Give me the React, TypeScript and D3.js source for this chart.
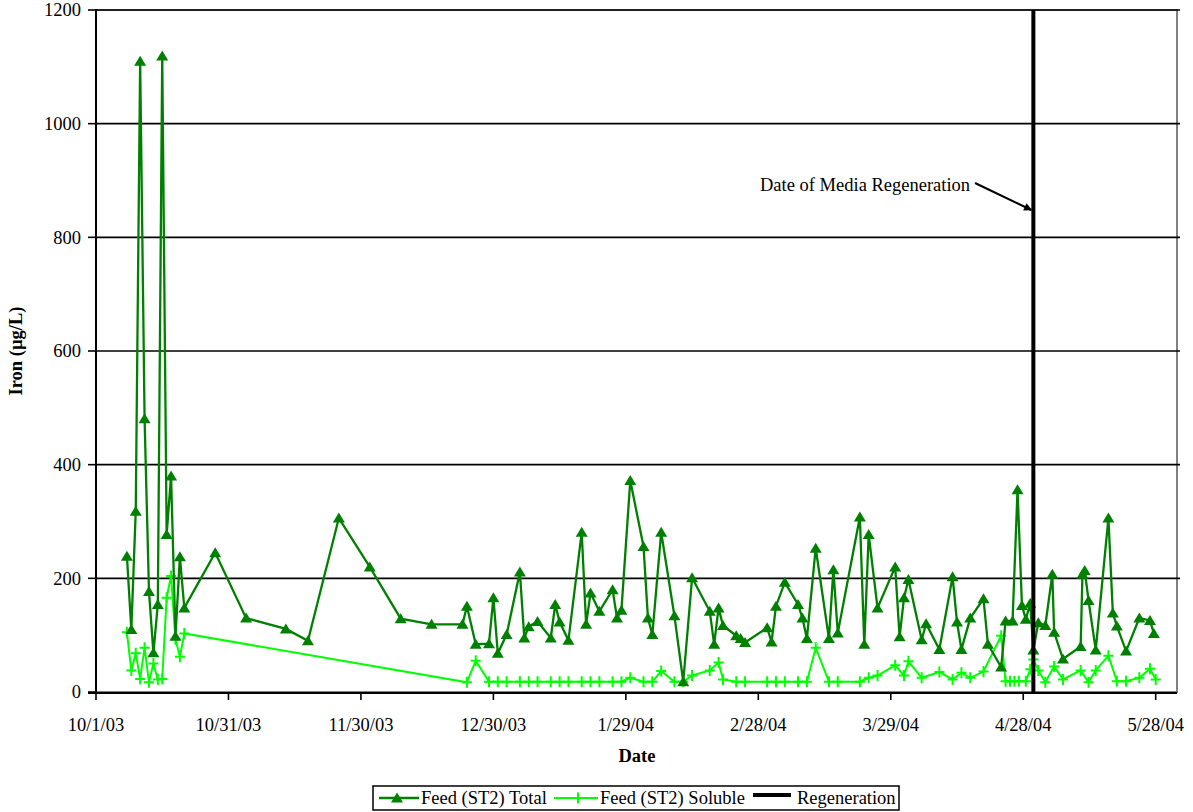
import React from "react";
import * as d3 from "d3";

// ---------- data ----------
const totalDates = [
  "2003-10-08", "2003-10-09", "2003-10-10", "2003-10-11", "2003-10-12", "2003-10-13", "2003-10-14",
  "2003-10-15", "2003-10-16", "2003-10-17", "2003-10-18", "2003-10-19", "2003-10-20", "2003-10-21",
  "2003-10-28", "2003-11-04", "2003-11-13", "2003-11-18", "2003-11-25", "2003-12-02", "2003-12-09",
  "2003-12-16", "2003-12-23", "2003-12-24", "2003-12-26", "2003-12-29", "2003-12-30", "2003-12-31",
  "2004-01-02", "2004-01-05", "2004-01-06", "2004-01-07", "2004-01-09", "2004-01-12", "2004-01-13",
  "2004-01-14", "2004-01-16", "2004-01-19", "2004-01-20", "2004-01-21", "2004-01-23", "2004-01-26",
  "2004-01-27", "2004-01-28", "2004-01-30", "2004-02-02", "2004-02-03", "2004-02-04", "2004-02-06",
  "2004-02-09", "2004-02-11", "2004-02-13", "2004-02-17", "2004-02-18", "2004-02-19", "2004-02-20",
  "2004-02-23", "2004-02-24", "2004-02-25", "2004-03-01", "2004-03-02", "2004-03-03", "2004-03-05",
  "2004-03-08", "2004-03-09", "2004-03-10", "2004-03-12", "2004-03-15", "2004-03-16", "2004-03-17",
  "2004-03-22", "2004-03-23", "2004-03-24", "2004-03-26", "2004-03-30", "2004-03-31", "2004-04-01",
  "2004-04-02", "2004-04-05", "2004-04-06", "2004-04-09", "2004-04-12", "2004-04-13", "2004-04-14",
  "2004-04-16", "2004-04-19", "2004-04-20", "2004-04-23", "2004-04-24", "2004-04-25T14", "2004-04-26T17",
  "2004-04-27T17", "2004-04-28T14", "2004-04-29T14", "2004-04-30T07", "2004-05-01T10", "2004-05-03",
  "2004-05-04T14", "2004-05-05", "2004-05-07", "2004-05-11", "2004-05-11T10", "2004-05-11T22",
  "2004-05-12T19", "2004-05-14T10", "2004-05-17T07", "2004-05-18T07", "2004-05-19T05", "2004-05-21T07",
  "2004-05-24T07", "2004-05-26T17", "2004-05-27T14",
];
const totalValues = [
  239, 110, 318, 1110, 481, 177, 69,
  154, 1119, 277, 380, 98, 238, 148,
  245, 130, 111, 90, 306, 220, 129,
  119, 119, 151, 84, 85, 166, 68,
  101, 211, 95, 115, 124, 95, 154,
  123, 91, 281, 119, 174, 142, 180,
  130, 144, 372, 256, 130, 101, 281,
  134, 18, 201, 142, 84, 148, 117,
  99, 94, 87, 113, 88, 151, 193,
  154, 130, 94, 253, 94, 215, 104,
  308, 84, 277, 148, 220, 97, 166,
  198, 92, 120, 75, 203, 123, 75,
  130, 164, 84, 44, 125, 125, 356,
  152, 128, 156, 74, 122, 117,
  207, 105, 58, 80, 207, 214,
  161, 74, 306, 139, 116, 72,
  130, 126, 103,
];

const solubleDates = [
  "2003-10-08", "2003-10-09", "2003-10-10", "2003-10-11", "2003-10-12", "2003-10-13", "2003-10-14",
  "2003-10-15", "2003-10-16", "2003-10-17", "2003-10-18", "2003-10-19", "2003-10-20", "2003-10-21",
  "2003-12-24", "2003-12-26", "2003-12-29", "2003-12-31", "2004-01-02", "2004-01-05", "2004-01-07",
  "2004-01-09", "2004-01-12", "2004-01-14", "2004-01-16", "2004-01-19", "2004-01-21", "2004-01-23",
  "2004-01-26", "2004-01-28", "2004-01-30", "2004-02-02", "2004-02-04", "2004-02-06", "2004-02-09",
  "2004-02-11", "2004-02-13", "2004-02-17", "2004-02-19", "2004-02-20", "2004-02-23", "2004-02-25",
  "2004-03-01", "2004-03-03", "2004-03-05", "2004-03-08", "2004-03-10", "2004-03-12", "2004-03-15",
  "2004-03-17", "2004-03-22", "2004-03-24", "2004-03-26", "2004-03-30", "2004-04-01", "2004-04-02",
  "2004-04-05", "2004-04-09", "2004-04-12", "2004-04-14", "2004-04-16", "2004-04-19", "2004-04-23",
  "2004-04-24", "2004-04-25", "2004-04-26", "2004-04-27", "2004-04-28T14", "2004-04-29T14", "2004-04-30T07",
  "2004-05-01T10", "2004-05-03", "2004-05-05", "2004-05-07", "2004-05-11", "2004-05-12T19", "2004-05-14T10",
  "2004-05-17T07", "2004-05-19T05", "2004-05-21T07", "2004-05-24T07", "2004-05-26T17", "2004-05-28",
];
const solubleValues = [
  105, 38, 68, 23, 78, 17, 50,
  22, 23, 166, 204, 93, 62, 103,
  17, 55, 18, 18, 18, 18, 18,
  18, 18, 18, 18, 18, 18, 18,
  18, 18, 25, 18, 18, 37, 18,
  18, 29, 38, 52, 22, 18, 18,
  18, 18, 18, 18, 18, 78, 18,
  18, 18, 25, 29, 47, 29, 54,
  25, 35, 22, 34, 25, 36, 99,
  19, 19, 19, 19, 19, 40, 57,
  38, 17, 45, 22, 38, 17, 38,
  64, 19, 19, 25, 41, 22,
];

const regenerationDate = "2004-04-30T07";
const yTickValues = [0, 200, 400, 600, 800, 1000, 1200];
const xTickStart = "2003-10-01";
const xTickCount = 9;
const xTickStepDays = 30;

const seriesNames = ["Feed (ST2) Total", "Feed (ST2) Soluble", "Regeneration"];
const annotationText = "Date of Media Regeneration";

// ---------- helpers ----------
function parseDate(s: string): Date {
  const [d, h] = s.split("T");
  const [y, m, day] = d.split("-").map(Number);
  return new Date(Date.UTC(y, m - 1, day, h ? Number(h) : 0));
}

const FONT = "'Liberation Serif', 'Times New Roman', serif";
const FS = 18.5;

const left = 96;
const right = 1177;
const top = 10;
const bottom = 692;

const DARK = "#008000";
const LIME = "#00FF00";

const triPath = "M0,-5.5 L6,4.5 L-6,4.5 Z";
const plusPath = "M-5,0 H5 M0,-5.5 V5.5";

export default function App() {
  const t0 = parseDate(xTickStart);
  const tEnd = d3.utcDay.offset(t0, xTickStepDays * (xTickCount - 1));
  const x = d3.scaleUtc().domain([t0, tEnd]).range([left, 1155.7]);
  const y = d3.scaleLinear().domain([0, 1200]).range([bottom, top]);

  const xTicks = d3.range(xTickCount).map((i) => d3.utcDay.offset(t0, xTickStepDays * i));
  const fmt = d3.utcFormat("%-m/%-d/%y");

  const total = totalDates.map((d, i) => ({ d: parseDate(d), v: totalValues[i] }));
  const soluble = solubleDates.map((d, i) => ({ d: parseDate(d), v: solubleValues[i] }));

  const line = d3
    .line<{ d: Date; v: number }>()
    .x((p) => x(p.d))
    .y((p) => y(p.v));

  const regX = x(parseDate(regenerationDate));

  // legend layout
  const lgX = 373, lgY = 786, lgW = 526, lgH = 24;
  const lgCY = lgY + lgH / 2;

  return (
    <svg width={1193} height={812} style={{ position: "absolute", left: 0, top: 0, background: "#fff" }} fontFamily={FONT}>
      <rect x={0} y={0} width={1193} height={812} fill="#fff" />

      {/* plot border (gray) */}
      <rect x={left} y={top} width={right - left} height={bottom - top} fill="none" stroke="#808080" strokeWidth={2} />

      {/* grid lines */}
      {yTickValues.filter((v) => v > 0).map((v) => (
        <line key={v} x1={left} x2={right + 3} y1={y(v)} y2={y(v)} stroke="#000" strokeWidth={1.6} />
      ))}

      {/* y axis */}
      <line x1={left} x2={left} y1={top - 1} y2={bottom + 1} stroke="#000" strokeWidth={2} />
      {yTickValues.map((v) => (
        <g key={v}>
          <line x1={left - 8} x2={left} y1={y(v)} y2={y(v)} stroke="#000" strokeWidth={1.6} />
          <text x={81} y={y(v)} dy="0.35em" textAnchor="end" fontSize={FS}>
            {v}
          </text>
        </g>
      ))}

      {/* x axis */}
      <line x1={left - 8} x2={right} y1={bottom + 1} y2={bottom + 1} stroke="#000" strokeWidth={2} />
      {xTicks.map((t, i) => (
        <g key={i}>
          <line x1={x(t)} x2={x(t)} y1={bottom + 1} y2={bottom + 8} stroke="#000" strokeWidth={1.6} />
          <text x={x(t)} y={731} textAnchor="middle" fontSize={FS}>
            {fmt(t)}
          </text>
        </g>
      ))}

      {/* axis titles */}
      <text x={637} y={762} textAnchor="middle" fontSize={FS} fontWeight="bold">
        Date
      </text>
      <text transform={`translate(22,351) rotate(-90)`} textAnchor="middle" fontSize={FS} fontWeight="bold">
        Iron (µg/L)
      </text>

      {/* soluble series */}
      <path d={line(soluble) || ""} fill="none" stroke={LIME} strokeWidth={2} />
      {soluble.map((p, i) => (
        <path key={i} d={plusPath} transform={`translate(${x(p.d)},${y(p.v)})`} stroke={LIME} strokeWidth={2} fill="none" />
      ))}

      {/* total series */}
      <path d={line(total) || ""} fill="none" stroke={DARK} strokeWidth={2.3} />
      {total.map((p, i) => (
        <path key={i} d={triPath} transform={`translate(${x(p.d)},${y(p.v)})`} fill={DARK} />
      ))}

      {/* regeneration line */}
      <line x1={regX} x2={regX} y1={top} y2={bottom} stroke="#000" strokeWidth={4} />

      {/* annotation */}
      <text x={760} y={191} fontSize={FS}>
        {annotationText}
      </text>
      <defs>
        <marker id="arrowHead" viewBox="0 0 10 10" refX={9} refY={5} markerWidth={5} markerHeight={4} orient="auto" markerUnits="strokeWidth">
          <path d="M0,0 L10,5 L0,10 Z" fill="#000" />
        </marker>
      </defs>
      <line x1={975} y1={183} x2={regX - 2} y2={210} stroke="#000" strokeWidth={2} markerEnd="url(#arrowHead)" />

      {/* legend */}
      <rect x={lgX} y={lgY} width={lgW} height={lgH} fill="#fff" stroke="#000" strokeWidth={1.5} />
      <line x1={379} x2={419} y1={lgCY} y2={lgCY} stroke={DARK} strokeWidth={2.3} />
      <path d={triPath} transform={`translate(397,${lgCY})`} fill={DARK} />
      <text x={421} y={lgCY} dy="0.35em" fontSize={FS}>
        {seriesNames[0]}
      </text>
      <line x1={554} x2={598} y1={lgCY} y2={lgCY} stroke={LIME} strokeWidth={2} />
      <path d={plusPath} transform={`translate(578,${lgCY})`} stroke={LIME} strokeWidth={2} fill="none" />
      <text x={600} y={lgCY} dy="0.35em" fontSize={FS}>
        {seriesNames[1]}
      </text>
      <line x1={753} x2={791} y1={lgCY - 3} y2={lgCY - 3} stroke="#000" strokeWidth={4} />
      <text x={797} y={lgCY} dy="0.35em" fontSize={FS}>
        {seriesNames[2]}
      </text>
    </svg>
  );
}
